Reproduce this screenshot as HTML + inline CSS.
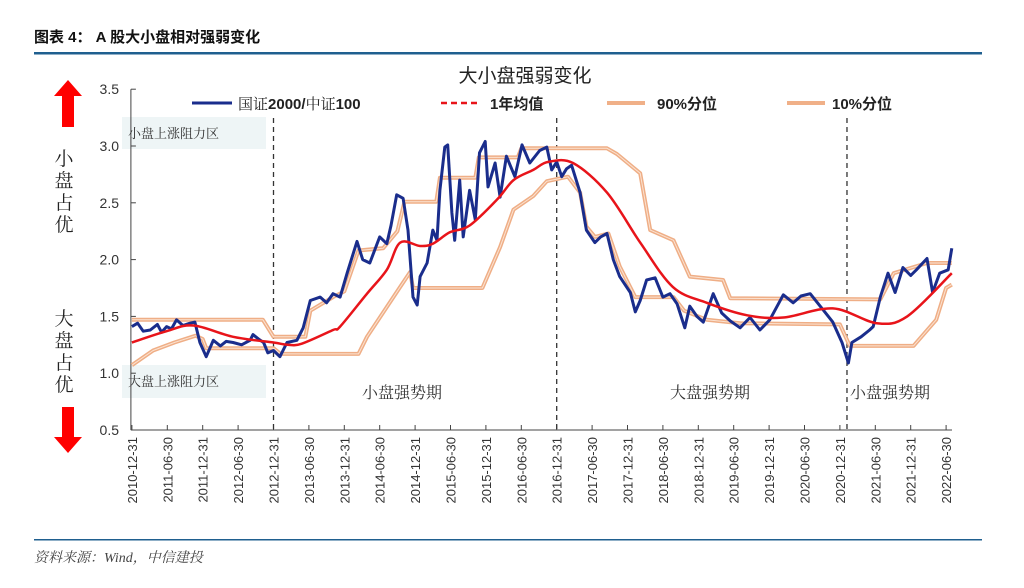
<!DOCTYPE html>
<html><head><meta charset="utf-8"><style>
body{margin:0;background:#fff;width:1024px;height:583px;overflow:hidden;font-family:"Liberation Sans","Noto Sans CJK SC",sans-serif}
</style></head><body>
<svg id="c" width="1024" height="583" xmlns="http://www.w3.org/2000/svg">
<text x="34" y="42" font-size="15" font-weight="bold" fill="#111" font-family="'Liberation Sans','Noto Sans CJK SC',sans-serif">图表 4：  A 股大小盘相对强弱变化</text>
<rect x="34" y="52" width="948" height="2.5" fill="#1f5f8f"/>
<text x="525" y="82" font-size="19" text-anchor="middle" fill="#222" font-family="'Noto Sans CJK SC',sans-serif">大小盘强弱变化</text>
<rect x="122" y="117" width="144" height="32" fill="#eef5f6"/>
<text x="128" y="138" font-size="13" fill="#333" font-family="'Noto Serif CJK SC',serif">小盘上涨阻力区</text>
<rect x="122" y="365" width="144" height="33" fill="#eef5f6"/>
<text x="128" y="386" font-size="13" fill="#333" font-family="'Noto Serif CJK SC',serif">大盘上涨阻力区</text>
<polygon points="68,80 82,96 74,96 74,127 62,127 62,96 54,96" fill="#f00"/>
<polygon points="68,453 82,437 74,437 74,407 62,407 62,437 54,437" fill="#f00"/>
<g font-size="19" fill="#222" text-anchor="middle" font-family="'Noto Serif CJK SC',serif">
<text x="64" y="165"><tspan x="64" dy="0">小</tspan><tspan x="64" dy="22">盘</tspan><tspan x="64" dy="22">占</tspan><tspan x="64" dy="22">优</tspan></text>
<text x="64" y="325"><tspan x="64" dy="0">大</tspan><tspan x="64" dy="22">盘</tspan><tspan x="64" dy="22">占</tspan><tspan x="64" dy="22">优</tspan></text>
</g>
<g id="axes"></g>
<g id="series"></g>
<g font-size="16" fill="#333" font-family="'Noto Serif CJK SC',serif">
<text x="362" y="398">小盘强势期</text>
<text x="670" y="398">大盘强势期</text>
<text x="850" y="398">小盘强势期</text>
</g>
<g font-size="15" fill="#222" font-weight="bold">
<line x1="192" y1="103" x2="232" y2="103" stroke="#1a2d8c" stroke-width="3"/>
<text x="238" y="109"><tspan font-weight="normal" font-family="'Noto Serif CJK SC',serif">国证</tspan>2000/<tspan font-weight="normal" font-family="'Noto Serif CJK SC',serif">中证</tspan>100</text>
<line x1="441" y1="103" x2="478" y2="103" stroke="#e8141a" stroke-width="2.5" stroke-dasharray="6,4"/>
<text x="490" y="109">1<tspan font-family="'Noto Sans CJK SC',sans-serif">年均值</tspan></text>
<line x1="607" y1="103" x2="645" y2="103" stroke="#f0b088" stroke-width="4"/>
<text x="657" y="109">90%<tspan font-family="'Noto Sans CJK SC',sans-serif">分位</tspan></text>
<line x1="787" y1="103" x2="825" y2="103" stroke="#f0b088" stroke-width="4"/>
<text x="832" y="109">10%<tspan font-family="'Noto Sans CJK SC',sans-serif">分位</tspan></text>
</g>
<rect x="34" y="539" width="948" height="1.5" fill="#1f5f8f"/>
<text x="34" y="562" font-size="14" font-style="italic" fill="#444" font-family="'Liberation Serif','Noto Serif CJK SC',serif">资料来源：Wind，中信建投</text>
</svg>
<script>
// x = years since 2010-12-31
const tickLabels=["2010-12-31","2011-06-30","2011-12-31","2012-06-30","2012-12-31","2013-06-30","2013-12-31","2014-06-30","2014-12-31","2015-06-30","2015-12-31","2016-06-30","2016-12-31","2017-06-30","2017-12-31","2018-06-30","2018-12-31","2019-06-30","2019-12-31","2020-06-30","2020-12-31","2021-06-30","2021-12-31","2022-06-30"];
const yTicks=[0.5,1.0,1.5,2.0,2.5,3.0,3.5];
const ratioT=[0,0.08,0.16,0.26,0.36,0.42,0.49,0.56,0.63,0.72,0.82,0.89,0.96,1.05,1.15,1.25,1.33,1.43,1.55,1.67,1.71,1.79,1.86,1.92,2.0,2.09,2.19,2.33,2.42,2.52,2.66,2.75,2.84,2.94,3.04,3.18,3.26,3.36,3.5,3.6,3.66,3.74,3.83,3.9,3.97,4.03,4.07,4.17,4.25,4.31,4.35,4.42,4.46,4.52,4.56,4.63,4.68,4.77,4.85,4.91,4.99,5.03,5.13,5.2,5.29,5.41,5.51,5.62,5.76,5.86,5.93,6.0,6.07,6.14,6.21,6.33,6.42,6.54,6.62,6.71,6.8,6.89,7.04,7.11,7.18,7.27,7.39,7.5,7.6,7.7,7.81,7.88,7.98,8.07,8.21,8.33,8.45,8.59,8.73,8.87,9.01,9.2,9.34,9.45,9.58,9.76,9.9,10.03,10.12,10.17,10.3,10.42,10.47,10.57,10.68,10.78,10.89,11.0,11.08,11.23,11.31,11.41,11.53,11.58];
const ratioV=[1.41,1.44,1.37,1.38,1.43,1.36,1.41,1.39,1.47,1.42,1.44,1.45,1.27,1.145,1.29,1.24,1.28,1.27,1.25,1.29,1.34,1.3,1.27,1.18,1.2,1.145,1.27,1.29,1.4,1.64,1.67,1.62,1.7,1.67,1.88,2.16,2.0,1.97,2.2,2.14,2.3,2.57,2.54,2.26,1.67,1.6,1.85,1.97,2.26,2.17,2.61,2.99,3.01,2.41,2.17,2.7,2.2,2.61,2.35,2.94,3.04,2.64,2.85,2.55,2.91,2.73,3.01,2.85,2.96,2.99,2.79,2.86,2.73,2.8,2.83,2.59,2.26,2.15,2.2,2.23,2.0,1.85,1.71,1.54,1.64,1.82,1.84,1.67,1.7,1.61,1.4,1.59,1.5,1.45,1.7,1.53,1.46,1.4,1.49,1.38,1.47,1.69,1.62,1.68,1.7,1.56,1.45,1.27,1.09,1.27,1.32,1.38,1.41,1.67,1.88,1.71,1.93,1.86,1.91,2.01,1.71,1.88,1.91,2.1];
const meanT=[0,0.49,0.87,1.43,2.0,2.2,2.4,2.84,2.94,3.32,3.6,3.79,4.07,4.25,4.49,4.77,5.16,5.39,5.67,5.88,6.23,6.71,7.18,7.64,8.12,8.69,9.2,9.9,10.52,10.95,11.58];
const meanV=[1.27,1.37,1.42,1.32,1.27,1.25,1.26,1.38,1.41,1.7,1.91,2.15,2.12,2.14,2.24,2.3,2.53,2.7,2.79,2.86,2.85,2.59,2.15,1.76,1.62,1.51,1.49,1.57,1.44,1.5,1.88];
const p90T=[0,1.85,2.0,2.45,2.52,2.84,3.0,3.2,3.55,3.75,3.85,4.3,4.35,4.85,4.9,5.45,5.5,6.71,6.85,7.18,7.32,7.65,7.88,8.35,8.45,10.57,10.76,11.23,11.58];
const p90V=[1.47,1.47,1.32,1.32,1.55,1.67,1.72,2.08,2.1,2.25,2.51,2.51,2.72,2.72,2.9,2.9,2.98,2.98,2.93,2.76,2.26,2.17,1.85,1.82,1.66,1.65,1.88,1.97,1.97];
const p10T=[0,0.3,0.6,0.9,1.0,1.05,2.0,2.1,3.2,3.32,3.79,3.93,3.97,4.95,5.2,5.39,5.67,5.86,6.16,6.33,6.42,6.54,6.73,6.89,7.11,7.65,7.8,8.12,8.59,10.0,10.14,11.04,11.36,11.5,11.58];
const p10V=[1.07,1.2,1.27,1.33,1.3,1.22,1.22,1.17,1.17,1.32,1.76,1.89,1.75,1.75,2.11,2.44,2.56,2.69,2.73,2.59,2.29,2.2,2.23,1.94,1.67,1.67,1.55,1.47,1.44,1.43,1.24,1.24,1.47,1.75,1.78];
const dividerT=[2.0,6.0,10.1];

const NS="http://www.w3.org/2000/svg";
const X0=131.9,XS=70.8,Y0=430,YS=113.6;
const xs=t=>X0+t*XS, ys=v=>Y0-(v-0.5)*YS;
function mk(tag,attrs,parent){const e=document.createElementNS(NS,tag);for(const k in attrs)e.setAttribute(k,attrs[k]);parent.appendChild(e);return e;}
const ax=document.getElementById('axes'),sr=document.getElementById('series');
let e=mk('line',{x1:xs(0)-1,y1:ys(0.5),x2:xs(0)-1,y2:ys(3.5),stroke:'#444','stroke-width':1},ax);


e=mk('line',{x1:xs(0)-1,y1:ys(0.5),x2:952,y2:ys(0.5),stroke:'#444','stroke-width':1},ax);


yTicks.forEach(v=>{
 let l=mk('line',{x1:xs(0)-1,y1:ys(v),x2:xs(0)+4,y2:ys(v),stroke:'#444'},ax);
 
 
 let t=mk('text',{x:119,y:ys(v)+5,'font-size':14,'text-anchor':'end',fill:'#333'},ax);
 t.textContent=v.toFixed(1);
 
 
});
tickLabels.forEach((s,i)=>{
 const x=xs(i*0.5);
 let l=mk('line',{x1:x,y1:ys(0.5),x2:x,y2:ys(0.5)-5,stroke:'#444'},ax);
 
 
 let t=mk('text',{x:0,y:0,'font-size':13,'text-anchor':'end',fill:'#333',transform:`translate(${x+5},${ys(0.5)+7}) rotate(-90)`},ax);
 t.textContent=s;
 
 
});
dividerT.forEach(d=>{
 let l=mk('line',{x1:xs(d),y1:118,x2:xs(d),y2:ys(0.5),stroke:'#333','stroke-width':1.3,'stroke-dasharray':'5,4'},ax);
 
 
});
const pts=(T,V)=>T.map((t,i)=>xs(t).toFixed(1)+','+ys(V[i]).toFixed(1)).join(' ');
function smooth(T,V){
 const P=T.map((t,i)=>[xs(t),ys(V[i])]);
 let d='M'+P[0][0].toFixed(1)+','+P[0][1].toFixed(1);
 for(let i=0;i<P.length-1;i++){
  const p0=P[Math.max(0,i-1)],p1=P[i],p2=P[i+1],p3=P[Math.min(P.length-1,i+2)];
  const c1=[p1[0]+(p2[0]-p0[0])/6,p1[1]+(p2[1]-p0[1])/6],c2=[p2[0]-(p3[0]-p1[0])/6,p2[1]-(p3[1]-p1[1])/6];
  d+=` C${c1[0].toFixed(1)},${c1[1].toFixed(1)} ${c2[0].toFixed(1)},${c2[1].toFixed(1)} ${p2[0].toFixed(1)},${p2[1].toFixed(1)}`;
 }
 return d;
}
[[p90T,p90V,'p90-line'],[p10T,p10V,'p10-line']].forEach(([T,V,n])=>{
 let a=mk('polyline',{points:pts(T,V),fill:'none',stroke:'#efae86','stroke-width':4,'stroke-linejoin':'round'},sr);
 
 
 let b=mk('polyline',{points:pts(T,V),fill:'none',stroke:'#fbe3d2','stroke-width':1,'stroke-linejoin':'round'},sr);
 
 
});
let r=mk('polyline',{points:pts(ratioT,ratioV),fill:'none',stroke:'#1a2d8c','stroke-width':3,'stroke-linejoin':'round'},sr);


let m=mk('path',{d:smooth(meanT,meanV),fill:'none',stroke:'#e8141a','stroke-width':2.5,'stroke-linejoin':'round'},sr);


</script>
</body></html>
